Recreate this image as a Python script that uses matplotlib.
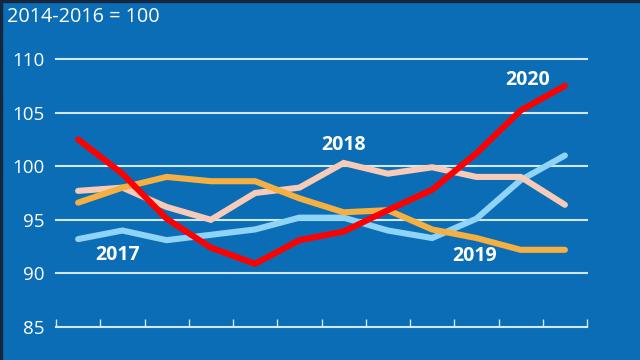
import matplotlib.pyplot as plt
from matplotlib.patches import Rectangle

months = list(range(12))
v2017 = [93.2, 94.0, 93.1, 93.6, 94.1, 95.2, 95.2, 94.0, 93.3, 95.1, 98.7, 101.0]
v2018 = [97.7, 98.0, 96.2, 95.0, 97.5, 98.0, 100.3, 99.3, 99.9, 99.0, 99.0, 96.4]
v2019 = [96.6, 98.0, 99.0, 98.6, 98.6, 97.0, 95.7, 95.9, 94.1, 93.3, 92.2, 92.2]
v2020 = [102.5, 99.3, 95.1, 92.4, 90.9, 93.1, 93.9, 95.9, 97.8, 101.2, 105.2, 107.5]

series = [("2017", v2017, "#8fd4f6", (0.9, 91.7)),
          ("2018", v2018, "#f8cbb8", (6.0, 102.0)),
          ("2019", v2019, "#f5b041", (8.97, 91.6)),
          ("2020", v2020, "#ff0000", (10.15, 108.0))]

bg = "#0b6db6"
grid_col = "#cfe9fa"
plt.rcParams['font.family'] = ['Open Sans', 'DejaVu Sans']

fig = plt.figure(figsize=(6.4, 3.6), dpi=100, facecolor=bg)
# thin dark frame on the top and left edges
fig.patches.append(Rectangle((0, 1 - 2 / 360), 1, 2 / 360, transform=fig.transFigure,
                             color="#15263d", zorder=10))
fig.patches.append(Rectangle((0, 0), 1.5 / 640, 1, transform=fig.transFigure,
                             color="#15263d", zorder=10))

ax = fig.add_axes([56 / 640, 1 - 327 / 360, (587 - 56) / 640, (327 - 59) / 360])
ax.set_facecolor(bg)

for yv in [90, 95, 100, 105, 110]:
    ax.axhline(yv, color=grid_col, lw=1.5, zorder=1, clip_on=False)

for name, vals, col, pos in series:
    ax.plot(months, vals, color=col, lw=4.4, solid_capstyle='round',
            solid_joinstyle='miter', zorder=3)
    ax.text(pos[0], pos[1], name, color='white', fontsize=14, fontweight='bold',
            ha='center', va='center', zorder=5)

ax.set_xlim(-0.5, 11.5)
ax.set_ylim(85, 110)
ax.set_xticks([i - 0.5 for i in range(13)])
ax.set_xticklabels([])
ax.tick_params(axis='x', direction='in', length=6, width=1.0, colors=grid_col)
ax.set_yticks([85, 90, 95, 100, 105, 110])
ax.tick_params(axis='y', length=0, pad=8, labelsize=13.5, labelcolor='white')
for s in ['top', 'right', 'left']:
    ax.spines[s].set_visible(False)
ax.spines['bottom'].set_color(grid_col)
ax.spines['bottom'].set_linewidth(1.5)

fig.text(7 / 640, 1 - 17 / 360, "2014-2016 = 100", color='white', fontsize=14.3,
         ha='left', va='center')

fig.savefig("out.png", dpi=100, facecolor=bg)
